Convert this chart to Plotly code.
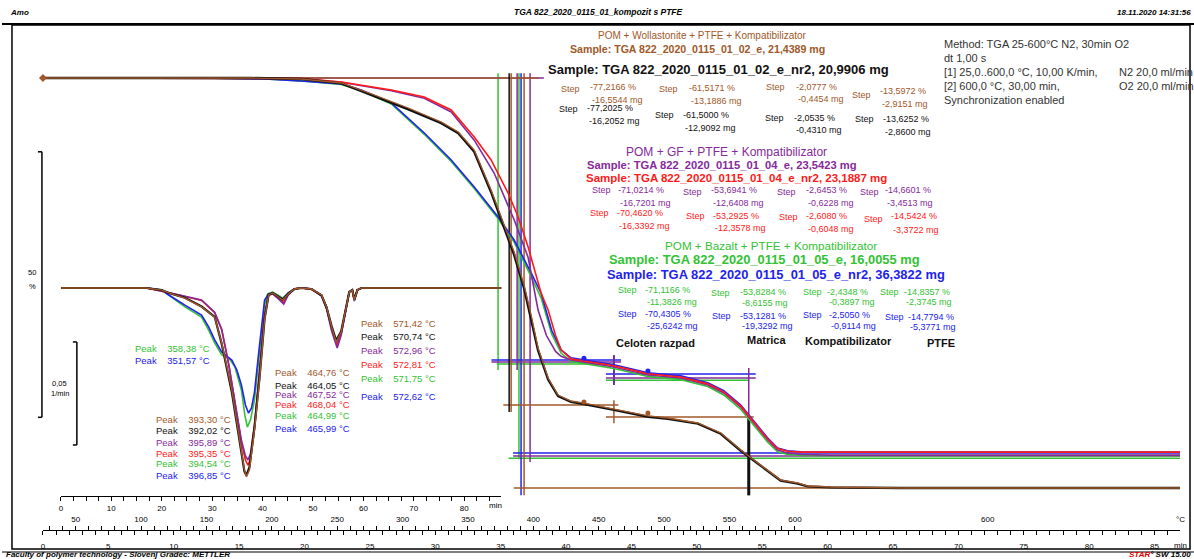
import plotly.graph_objects as go

W, H = 1194, 559
FONT = "Liberation Sans"

# ---------------- colours ----------------
BROWN = "#A0582A"
BLACK = "#111111"
PURPLE = "#862A9A"
RED = "#FF1A1A"
GREEN = "#33C233"
BLUE = "#2222EE"

# ---------------- TGA curves (time / min, mass / %) ----------------
tga_t_brown = [0, 15.95, 19.77, 22.82, 25.34, 27.94, 30.46, 31.76, 32.98, 34.27, 35.27, 36.03, 36.79, 37.33,
               37.86, 38.63, 39.39, 40.38, 41.37, 43.66, 46.26, 47.79, 50.08, 51.83, 53.36, 54.66, 55.65,
               56.41, 57.71, 58.47, 60.23, 65.57, 87.3]
tga_brown = [100, 100, 99.81, 99.06, 96.8, 94.35, 91.71, 89.83, 86.44, 78.91, 72.32, 67.23, 61.02, 55.37,
             49.15, 43.5, 40.3, 39.17, 38.79, 37.66, 36.35, 35.97, 35.03, 33.15, 29.94, 27.5, 25.61,
             24.29, 23.73, 23.16, 22.98, 22.79, 22.79]
tga_black = [100, 100, 99.8, 99.0, 96.6, 94.1, 91.5, 89.6, 86.1, 78.5, 71.8, 66.7, 60.4, 54.8,
             48.7, 43.2, 40.1, 39.0, 38.6, 37.5, 36.2, 35.8, 34.9, 33.0, 29.8, 27.4, 25.5,
             24.2, 23.6, 23.1, 22.9, 22.8, 22.8]

tga_t_red = [0, 15.95, 19.77, 22.82, 26.64, 29.16, 31.22, 32.98, 34.27, 35.57, 36.34, 37.10, 38.09, 38.63,
             39.2, 39.62, 40.38, 41.37, 43.66, 46.26, 48.78, 50.84, 52.06, 53.36, 54.35, 55.42, 56.18,
             56.95, 57.94, 60.23, 87.3]
tga_red = [100, 100, 99.9, 99.25, 97.74, 96.42, 93.97, 88.89, 84.56, 78.34, 73.82, 68.17, 59.51, 56.31,
           51.5, 48.8, 47.1, 46.7, 45.8, 44.3, 43.7, 42.4, 40.9, 38.2, 35.2, 32.0, 30.2,
           29.7, 29.55, 29.54, 29.54]

tga_t_purple = [0, 15.95, 19.77, 22.82, 26.64, 29.16, 31.22, 32.98, 34.50, 36.03, 37.10, 37.86, 38.5, 39.2,
                39.62, 40.38, 41.37, 43.66, 46.26, 48.78, 50.84, 52.06, 53.36, 54.35, 55.42, 56.18, 56.95,
                57.94, 60.23, 87.3]
tga_purple = [100, 100, 99.9, 99.2, 97.6, 96.2, 93.6, 88.3, 82.1, 73.3, 66.2, 56.3, 51.5, 48.5,
              47.6, 46.9, 46.5, 45.57, 44.07, 43.5, 42.18, 40.68, 38.04, 35.03, 31.83, 29.94, 29.38,
              29.1, 28.98, 28.98]

tga_t_bg = [0, 12.0, 17.0, 20.0, 22.82, 24.35, 26.64, 29.16, 31.22, 32.98, 34.81, 36.03, 37.33, 38.09,
            38.9, 39.62, 40.38, 41.37, 43.66, 46.26, 48.78, 50.84, 52.06, 53.36, 54.35, 55.42, 56.18,
            56.95, 57.94, 60.23, 87.3]
tga_blue = [100, 100, 99.8, 99.4, 98.87, 97.74, 95.29, 89.64, 84.56, 79.47, 73.82, 69.49, 63.28, 59.51,
            52.5, 48.8, 47.3, 46.9, 46.0, 44.5, 43.9, 42.6, 41.1, 38.4, 35.4, 32.2, 30.3,
            29.8, 29.6, 29.57, 29.57]
tga_green = [100, 100, 99.8, 99.4, 98.8, 97.6, 95.1, 89.4, 84.3, 79.2, 73.5, 69.1, 62.6, 58.6,
             51.8, 48.2, 46.6, 46.2, 45.3, 43.8, 43.2, 41.9, 40.3, 37.6, 34.6, 31.4, 29.6,
             29.1, 28.9, 28.88, 28.88]

# ---------------- DTG curves (time / min, 1/min) ----------------
dtg_t_brown = [0, 17.0, 20.0, 21.4, 24.6, 27.9, 30.5, 31.9, 33.9, 35.4, 36.4, 36.8, 37.4, 38.4, 39.4, 40.4,
               41.2, 42.0, 43.0, 44.0, 45.1, 46.3, 47.7, 49.7, 51.7, 52.7, 53.7, 54.6, 55.6, 56.6, 57.2,
               57.8, 58.2, 58.8, 59.6, 88.0]
dtg_brown = [0, 0, -0.001, -0.0024, -0.0049, -0.0092, -0.0141, -0.0267, -0.0495, -0.0738, -0.0883, -0.0917,
             -0.0883, -0.0689, -0.0447, -0.0155, -0.0034, -0.0024, -0.0039, -0.0058, -0.0029, -0.0005, 0,
             -0.0005, -0.0034, -0.0092, -0.0189, -0.0262, -0.0214, -0.0083, -0.0019, -0.001, -0.0058,
             -0.001, 0, 0]
dtg_black = [0, 0, -0.001, -0.0024, -0.0047, -0.0090, -0.0140, -0.0272, -0.0505, -0.0745, -0.0890, -0.0910,
             -0.0870, -0.0675, -0.0435, -0.0150, -0.0033, -0.0024, -0.0040, -0.0057, -0.0028, -0.0005, 0,
             -0.0005, -0.0036, -0.0095, -0.0185, -0.0255, -0.0210, -0.0080, -0.0019, -0.001, -0.0055,
             -0.001, 0, 0]

dtg_t_purple = [0, 17.0, 22.6, 27.9, 30.5, 31.9, 33.3, 34.5, 35.8, 36.6, 37.1, 37.6, 38.4, 39.4, 40.4, 41.2,
                42.0, 43.0, 44.2, 45.1, 46.3, 47.7, 49.7, 51.7, 52.7, 53.7, 54.8, 55.6, 56.6, 57.2, 57.8,
                58.2, 58.8, 59.6, 88.0]
dtg_purple = [0, 0, -0.0029, -0.0058, -0.0117, -0.0204, -0.0374, -0.0544, -0.0738, -0.0815, -0.0835, -0.0805,
              -0.0665, -0.0398, -0.0131, -0.0034, -0.0029, -0.0049, -0.0078, -0.0034, -0.0005, 0, -0.0005,
              -0.0039, -0.0102, -0.0209, -0.0291, -0.0228, -0.0088, -0.0019, -0.001, -0.0063, -0.001, 0, 0]
dtg_red = [0, 0, -0.0029, -0.0060, -0.0120, -0.0200, -0.0370, -0.0550, -0.0750, -0.0835, -0.0860, -0.0830,
           -0.0680, -0.0405, -0.0135, -0.0034, -0.0029, -0.0048, -0.0070, -0.0032, -0.0005, 0, -0.0005,
           -0.0037, -0.0098, -0.0200, -0.0280, -0.0222, -0.0086, -0.0019, -0.001, -0.0060, -0.001, 0, 0]

dtg_t_green = [0, 17.0, 20.0, 21.4, 24.6, 27.9, 29.3, 30.5, 31.9, 33.3, 34.5, 35.8, 36.5, 37.0, 37.6, 38.4,
               39.4, 40.4, 41.0, 42.0, 43.0, 44.0, 45.1, 46.3, 47.7, 49.7, 51.7, 52.7, 53.7, 54.7, 55.6,
               56.6, 57.2, 57.8, 58.2, 58.8, 59.6, 88.0]
dtg_green = [0, 0, -0.001, -0.0034, -0.0092, -0.0141, -0.0204, -0.0267, -0.0325, -0.034, -0.0383, -0.0495,
             -0.062, -0.0675, -0.064, -0.0544, -0.0301, -0.0083, -0.0029, -0.002, -0.0034, -0.0049, -0.0024,
             -0.0005, 0, -0.0005, -0.0034, -0.0092, -0.0194, -0.0272, -0.0219, -0.0083, -0.0019, -0.001,
             -0.0058, -0.001, 0, 0]

dtg_t_blue = [0, 17.0, 20.0, 21.4, 24.6, 27.9, 29.3, 30.5, 31.9, 32.7, 33.9, 34.9, 35.8, 36.6, 37.2, 37.8,
              38.4, 39.4, 40.4, 41.2, 42.0, 43.0, 44.0, 45.1, 46.3, 47.7, 49.7, 51.7, 52.7, 53.7, 54.6,
              55.6, 56.6, 57.2, 57.8, 58.2, 58.8, 59.6, 88.0]
dtg_blue = [0, 0, -0.001, -0.0034, -0.0083, -0.0131, -0.0189, -0.0252, -0.0311, -0.0325, -0.035, -0.0398,
            -0.0471, -0.0568, -0.0607, -0.0583, -0.0505, -0.0277, -0.0058, -0.0029, -0.0024, -0.0039,
            -0.0054, -0.0024, -0.0005, 0, -0.0005, -0.0034, -0.0092, -0.0194, -0.0267, -0.0214, -0.0083,
            -0.0019, -0.001, -0.0058, -0.001, 0, 0]

# ---------------- step evaluation lines ----------------
# horizontal: (colour, level %, t start, t end)
step_h = [
    (PURPLE, 100.0, 0.0, 38.3), (BROWN, 100.0, 0.0, 37.9),
    (GREEN, 46.14, 34.7, 43.7), (PURPLE, 46.52, 34.3, 44.2), (BLUE, 46.89, 34.3, 44.2),
    (GREEN, 43.1, 43.05, 54.0), (PURPLE, 43.5, 43.05, 54.5), (BLUE, 44.26, 43.05, 54.5),
    (GREEN, 28.4, 35.6, 87.3), (PURPLE, 28.8, 35.95, 87.3), (BLUE, 29.38, 35.95, 87.3),
    (BROWN, 38.42, 35.2, 44.0), (BROWN, 36.16, 43.05, 54.35), (BROWN, 22.79, 36.0, 87.3),
]
# vertical: (colour, t, low %, high %)
step_v = [
    (GREEN, 34.8, 45.0, 100.9), (BLACK, 35.65, 37.1, 100.9), (BROWN, 35.8, 37.1, 100.9),
    (PURPLE, 36.26, 45.0, 100.9), (GREEN, 36.4, 28.2, 100.9), (BLUE, 36.56, 21.4, 100.9),
    (BROWN, 36.79, 21.4, 100.9), (PURPLE, 37.25, 27.7, 100.9),
    (PURPLE, 53.97, 27.7, 45.4), (GREEN, 43.66, 42.2, 47.8), (BLUE, 43.66, 42.2, 47.8),
    (PURPLE, 43.66, 42.2, 47.8), (BROWN, 43.66, 35.0, 39.3),
]
step_v_thick = [(BLACK, 53.97, 21.4, 36.4)]

# step mid markers (t, %)
mid_brown_t = [41.37, 46.26]
mid_brown = [38.98, 36.9]
mid_blue_t = [41.37, 46.26]
mid_blue = [47.2, 44.8]

# ---------------- axis scales ----------------
MAIN_PX0, MAIN_PX1, MAIN_PPM = 41, 1180, 13.1        # main time axis
IN_PX0, IN_PX1, IN_PPM = 59, 500, 5.05               # inner DTG time axis
TGA_Y100, TGA_PPP = 78, 5.31                          # pixel row of 100 %, pixels per %
DTG_Y0, DTG_PPU = 288, 2060                           # pixel row of zero rate, pixels per 1/min

main_range = [0, (MAIN_PX1 - MAIN_PX0) / MAIN_PPM]
in_range = [0, (IN_PX1 - IN_PX0) / IN_PPM]
tga_range = [100 - (H - TGA_Y100) / TGA_PPP, 100 + TGA_Y100 / TGA_PPP]
dtg_range = [-(H - DTG_Y0) / DTG_PPU, DTG_Y0 / DTG_PPU]

time_ticks = list(range(0, 87))
time_labels = [str(v) if v % 5 == 0 else "" for v in time_ticks]
temp_values = list(range(30, 601, 10))
temp_ticks = [(T - 25) / 10 for T in temp_values]
temp_labels = [str(T) if T % 50 == 0 else "" for T in temp_values]
inner_ticks = [i * 2.5 for i in range(0, 35)]
inner_labels = [str(int(v)) if v % 10 == 0 else "" for v in inner_ticks]

fig = go.Figure()


def line(x, y, color, width=1.5, axis=("x", "y"), dash=None):
    fig.add_trace(go.Scatter(x=x, y=y, mode="lines", xaxis=axis[0], yaxis=axis[1],
                             line=dict(color=color, width=width, dash=dash), hoverinfo="skip"))


# DTG curves on the inner axes
line(dtg_t_green, dtg_green, GREEN, 1.6, ("x2", "y2"))
line(dtg_t_blue, dtg_blue, BLUE, 1.6, ("x2", "y2"))
line(dtg_t_purple, dtg_red, RED, 1.6, ("x2", "y2"))
line(dtg_t_purple, dtg_purple, PURPLE, 1.6, ("x2", "y2"))
line(dtg_t_brown, dtg_black, BLACK, 2.2, ("x2", "y2"))
line(dtg_t_brown, dtg_brown, BROWN, 1.4, ("x2", "y2"))


def seg_trace(color, segs, width):
    xs, ys = [], []
    for c, *v in segs:
        if c != color:
            continue
        xs += v[0]
        ys += v[1]
        xs.append(None)
        ys.append(None)
    if xs:
        line(xs, ys, color, width)


segments = []
for c, lvl, a, b in step_h:
    segments.append((c, [a, b], [lvl, lvl]))
for c, t, lo, hi in step_v:
    segments.append((c, [t, t], [lo, hi]))
for col in [GREEN, BLUE, PURPLE, BROWN, BLACK]:
    seg_trace(col, segments, 1.5)
for c, t, lo, hi in step_v_thick:
    line([t, t], [lo, hi], c, 3)

# TGA curves
line(tga_t_bg, tga_green, GREEN, 1.6)
line(tga_t_bg, tga_blue, BLUE, 1.6)
line(tga_t_purple, tga_purple, PURPLE, 1.6)
line(tga_t_red, tga_red, RED, 1.6)
line(tga_t_brown, tga_black, BLACK, 2.4)
line(tga_t_brown, tga_brown, BROWN, 1.3)

fig.add_trace(go.Scatter(x=mid_brown_t, y=mid_brown, mode="markers", marker=dict(color=BROWN, size=5),
                         hoverinfo="skip"))
fig.add_trace(go.Scatter(x=mid_blue_t, y=mid_blue, mode="markers", marker=dict(color=BLUE, size=5),
                         hoverinfo="skip"))
fig.add_trace(go.Scatter(x=[0], y=[100], mode="markers", cliponaxis=False,
                         marker=dict(color=BROWN, size=6, symbol="diamond"), hoverinfo="skip"))
# temperature axis carrier
fig.add_trace(go.Scatter(x=[], y=[], xaxis="x3", yaxis="y", hoverinfo="skip"))

axis_common = dict(showgrid=False, zeroline=False, showline=True, linecolor="black", linewidth=1.3,
                   ticks="outside", tickcolor="black", tickwidth=1, ticklen=4,
                   tickfont=dict(family=FONT, size=8, color="black"), anchor="free")

fig.update_layout(
    width=W, height=H, margin=dict(l=0, r=0, t=0, b=0),
    paper_bgcolor="white", plot_bgcolor="rgba(0,0,0,0)", showlegend=False,
    xaxis=dict(domain=[MAIN_PX0 / W, MAIN_PX1 / W], range=main_range, position=(H - 530) / H,
               tickmode="array", tickvals=time_ticks, ticktext=time_labels, ticklabelstandoff=4,
               **axis_common),
    xaxis3=dict(overlaying="x", range=main_range, position=(H - 530) / H, side="top",
                tickmode="array", tickvals=temp_ticks, ticktext=temp_labels, ticklabelstandoff=1,
                **{k: v for k, v in axis_common.items() if k not in ("showline",)}, showline=False),
    xaxis2=dict(domain=[IN_PX0 / W, IN_PX1 / W], range=in_range, position=(H - 496) / H,
                tickmode="array", tickvals=inner_ticks, ticktext=inner_labels, ticklabelstandoff=0,
                **axis_common),
    yaxis=dict(domain=[0, 1], range=tga_range, visible=False, anchor="x"),
    yaxis2=dict(domain=[0, 1], range=dtg_range, visible=False, anchor="x2"),
)


def px(x):
    return x / W


def py(y):
    return 1 - y / H


shapes = []
# frame and header / footer rules
shapes.append(dict(type="rect", xref="paper", yref="paper", x0=px(10), x1=px(1190), y0=py(25), y1=py(549),
                   line=dict(color="black", width=1.5)))
shapes.append(dict(type="line", xref="paper", yref="paper", x0=0, x1=1, y0=py(24), y1=py(24),
                   line=dict(color="black", width=2)))
shapes.append(dict(type="line", xref="paper", yref="paper", x0=0, x1=1, y0=py(552), y1=py(552),
                   line=dict(color="black", width=1)))
# scale bars: 50 % on the TGA axis, 0.05 1/min on the DTG axis
for xpix, ref, lo, hi in [(40, "y", 36.1, 86.1), (75, "y2", -0.0762, -0.0262)]:
    shapes.append(dict(type="line", xref="paper", yref=ref, x0=px(xpix), x1=px(xpix), y0=lo, y1=hi,
                       line=dict(color="black", width=1.5)))
    for yv in (lo, hi):
        shapes.append(dict(type="line", xref="paper", yref=ref, x0=px(xpix - 4), x1=px(xpix), y0=yv, y1=yv,
                           line=dict(color="black", width=1.5)))
fig.update_layout(shapes=shapes)

notes = []


def note(text, x, y, color="black", size=9, bold=False, anchor="left", italic=False):
    if bold:
        text = "<b>" + text + "</b>"
    if italic:
        text = "<i>" + text + "</i>"
    notes.append(dict(text=text, x=px(x), y=py(y), xref="paper", yref="paper", showarrow=False,
                      xanchor=anchor, yanchor="middle",
                      font=dict(family=FONT, size=size, color=color)))


NB = "\u00a0"

# header and footer
note("Amo", 6, 12, size=8, bold=True, italic=True)
note("TGA 822_2020_0115_01_kompozit s PTFE", 598, 12, size=8.5, bold=True, italic=True, anchor="center")
note("18.11.2020 14:31:56", 1193, 12, size=8, bold=True, italic=True, anchor="right")
note("Faculty of polymer technology - Slovenj Gradec: METTLER", 2, 554, size=8, bold=True, italic=True)
note("<span style='color:#E00000'>STAR</span>° SW 15.00", 1193, 554, size=8, bold=True, italic=True,
     anchor="right")

# method block
method_lines = ["Method: TGA 25-600°C N2, 30min O2", "dt 1,00 s", "[1] 25,0..600,0 °C, 10,00 K/min,",
                "[2] 600,0 °C, 30,00 min,", "Synchronization enabled"]
for i, s in enumerate(method_lines):
    note(s, 942, 44 + 14 * i, color="#333333", size=11)
note("N2 20,0 ml/min", 1117, 72, color="#333333", size=11)
note("O2 20,0 ml/min", 1117, 86, color="#333333", size=11)

# sample blocks
note("POM + Wollastonite + PTFE + Kompatibilizator", 702, 36, BROWN, 10, anchor="center")
note("Sample: TGA 822_2020_0115_01_02_e, 21,4389 mg", 697, 49, BROWN, 10.6, True, "center")
note("Sample: TGA 822_2020_0115_01_02_e_nr2, 20,9906 mg", 545, 70, BLACK, 13, True)

note("POM + GF + PTFE + Kompatibilizator", 726, 152, PURPLE, 12, anchor="center")
note("Sample: TGA 822_2020_0115_01_04_e, 23,5423 mg", 584, 165, PURPLE, 11.2, True)
note("Sample: TGA 822_2020_0115_01_04_e_nr2, 23,1887 mg", 583, 178, RED, 11.5, True)

note("POM + Bazalt + PTFE + Kompatibilizator", 770, 245, GREEN, 11.7, anchor="center")
note("Sample: TGA 822_2020_0115_01_05_e, 16,0055 mg", 606, 259, GREEN, 12.9, True)
note("Sample: TGA 822_2020_0115_01_05_e_nr2, 36,3822 mg", 604, 274, BLUE, 12.9, True)

# step results: (colour, [(x Step, y Step, x value, y %, y mg, % text, mg text), ...])
step_rows = [
    (BROWN, [(558, 89, 587, 87, 100, "-77,2166 %", "-16,5544 mg"), (656, 89, 686, 88, 101, "-61,5171 %", "-13,1886 mg"),
             (763, 87, 793, 87, 99, "-2,0777 %", "-0,4454 mg"), (849, 95, 877, 91, 104, "-13,5972 %", "-2,9151 mg")]),
    (BLACK, [(556, 109, 584, 108, 121, "-77,2025 %", "-16,2052 mg"), (652, 115, 680, 115, 128, "-61,5000 %", "-12,9092 mg"),
             (762, 118, 791, 118, 130, "-2,0535 %", "-0,4310 mg"), (852, 119, 880, 119, 132, "-13,6252 %", "-2,8600 mg")]),
    (PURPLE, [(589, 190, 615, 190, 203, "-71,0214 %", "-16,7201 mg"), (680, 192, 708, 190, 203, "-53,6941 %", "-12,6408 mg"),
              (774, 192, 803, 190, 203, "-2,6453 %", "-0,6228 mg"), (857, 192, 882, 190, 203, "-14,6601 %", "-3,4513 mg")]),
    (RED, [(587, 213, 614, 213, 226, "-70,4620 %", "-16,3392 mg"), (683, 216, 710, 216, 228, "-53,2925 %", "-12,3578 mg"),
           (776, 217, 803, 216, 229, "-2,6080 %", "-0,6048 mg"), (861, 219, 888, 216, 230, "-14,5424 %", "-3,3722 mg")]),
    (GREEN, [(615, 290, 642, 290, 302, "-71,1166 %", "-11,3826 mg"), (708, 293, 737, 292, 303, "-53,8284 %", "-8,6155 mg"),
             (800, 292, 824, 292, 302, "-2,4348 %", "-0,3897 mg"), (877, 292, 902, 292, 302, "-14,8357 %", "-2,3745 mg")]),
    (BLUE, [(615, 314, 642, 314, 326, "-70,4305 %", "-25,6242 mg"), (709, 316, 737, 316, 326, "-53,1281 %", "-19,3292 mg"),
            (800, 315, 826, 315, 326, "-2,5050 %", "-0,9114 mg"), (882, 317, 906, 317, 327, "-14,7794 %", "-5,3771 mg")]),
]
for col, cells in step_rows:
    for xs, ys, xv, yp, ym, tp, tm in cells:
        note("Step", xs, ys, col, 9)
        note(tp, xv, yp, col, 9)
        note(tm, xv + 2, ym, col, 9)

note("Celoten razpad", 613, 343, BLACK, 11, True)
note("Matrica", 744, 340, BLACK, 11, True)
note("Kompatibilizator", 802, 341, BLACK, 11, True)
note("PTFE", 925, 343, BLACK, 11, True)

# DTG peak labels
peak_groups = [
    (131, [(GREEN, 348, "358,38"), (BLUE, 360, "351,57")]),
    (152, [(BROWN, 419, "393,30"), (BLACK, 430, "392,02"), (PURPLE, 442, "395,89"), (RED, 453, "395,35"),
           (GREEN, 463, "394,54"), (BLUE, 475, "396,85")]),
    (271, [(BROWN, 372, "464,76"), (BLACK, 385, "464,05"), (PURPLE, 394, "467,52"), (RED, 404, "468,04"),
           (GREEN, 415, "464,99"), (BLUE, 428, "465,99")]),
    (358, [(BROWN, 323, "571,42"), (BLACK, 336, "570,74"), (PURPLE, 350, "572,96"), (RED, 364, "572,81"),
           (GREEN, 378, "571,75"), (BLUE, 396, "572,62")]),
]
for x0, rows in peak_groups:
    for col, y, val in rows:
        note("Peak" + NB * 4 + val + " °C", x0, y, col, 9.5)

# scale bar and axis captions
note("50", 30, 272, size=7.5, anchor="center")
note("%", 31, 286, size=7.5, anchor="center")
note("0,05", 58, 383, size=7.5, anchor="center")
note("1/min", 58, 393, size=7.5, anchor="center")
note("min", 494, 505, size=8, anchor="center")
note("min", 1180, 545, size=8, anchor="center")
note("°C", 1180, 519, size=8, anchor="center")
note("600", 988, 519, size=8, anchor="center")

fig.update_layout(annotations=notes)
fig.write_html("out.html")
